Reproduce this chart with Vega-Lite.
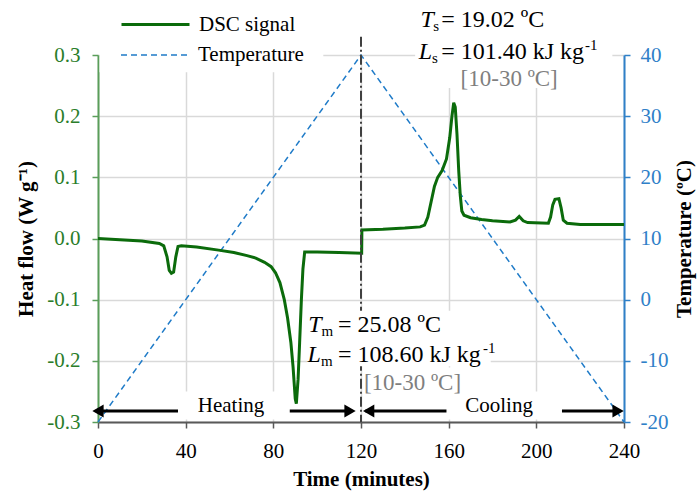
{
  "$schema": "https://vega.github.io/schema/vega-lite/v6.json",
  "width": 526,
  "height": 367,
  "autosize": {"type": "none"},
  "padding": {"left": 98, "top": 55, "right": 74, "bottom": 70},
  "background": "white",
  "config": {
    "view": {"stroke": null},
    "font": "Liberation Serif",
    "text": {"font": "Liberation Serif"}
  },
  "datasets": {
    "dsc": [
      {"t": 0, "hf": 0.0}, {"t": 10, "hf": -0.002}, {"t": 20, "hf": -0.004}, {"t": 28, "hf": -0.008},
      {"t": 30, "hf": -0.012}, {"t": 31.5, "hf": -0.03}, {"t": 32.5, "hf": -0.052}, {"t": 33.5, "hf": -0.057},
      {"t": 34.5, "hf": -0.055}, {"t": 35.5, "hf": -0.03}, {"t": 36.5, "hf": -0.013}, {"t": 38, "hf": -0.012},
      {"t": 45, "hf": -0.014}, {"t": 55, "hf": -0.019}, {"t": 62, "hf": -0.023}, {"t": 68, "hf": -0.028},
      {"t": 72, "hf": -0.032}, {"t": 76, "hf": -0.039}, {"t": 79, "hf": -0.046}, {"t": 81, "hf": -0.056},
      {"t": 83, "hf": -0.072}, {"t": 85, "hf": -0.1}, {"t": 86.5, "hf": -0.13}, {"t": 88, "hf": -0.17},
      {"t": 89, "hf": -0.21}, {"t": 90, "hf": -0.262}, {"t": 90.5, "hf": -0.27}, {"t": 91.3, "hf": -0.23},
      {"t": 92, "hf": -0.17}, {"t": 92.8, "hf": -0.1}, {"t": 93.5, "hf": -0.05}, {"t": 94.3, "hf": -0.022},
      {"t": 100, "hf": -0.022}, {"t": 110, "hf": -0.023}, {"t": 120.3, "hf": -0.024}, {"t": 120.4, "hf": 0.014},
      {"t": 130, "hf": 0.015}, {"t": 140, "hf": 0.017}, {"t": 147, "hf": 0.019}, {"t": 149, "hf": 0.022},
      {"t": 150.5, "hf": 0.035}, {"t": 152, "hf": 0.06}, {"t": 153.5, "hf": 0.085}, {"t": 155, "hf": 0.1},
      {"t": 157, "hf": 0.111}, {"t": 159, "hf": 0.13}, {"t": 160.5, "hf": 0.165}, {"t": 161.5, "hf": 0.2},
      {"t": 162.3, "hf": 0.222}, {"t": 163, "hf": 0.215}, {"t": 163.8, "hf": 0.17}, {"t": 164.6, "hf": 0.11},
      {"t": 165.3, "hf": 0.07}, {"t": 166, "hf": 0.045}, {"t": 167, "hf": 0.038}, {"t": 170, "hf": 0.034},
      {"t": 175, "hf": 0.031}, {"t": 180, "hf": 0.029}, {"t": 188, "hf": 0.027}, {"t": 190.5, "hf": 0.03},
      {"t": 192.2, "hf": 0.036}, {"t": 194, "hf": 0.029}, {"t": 196, "hf": 0.026}, {"t": 205.5, "hf": 0.025},
      {"t": 206.5, "hf": 0.035}, {"t": 207.5, "hf": 0.055}, {"t": 208.5, "hf": 0.064}, {"t": 210.3, "hf": 0.065},
      {"t": 211.3, "hf": 0.05}, {"t": 212.3, "hf": 0.03}, {"t": 214, "hf": 0.025}, {"t": 220, "hf": 0.023},
      {"t": 240, "hf": 0.023}
    ],
    "temp": [{"t": 0, "temp": -20}, {"t": 120, "temp": 40}, {"t": 240, "temp": -20}],
    "vline": [{"t": 120, "hf": 0.33, "hf2": -0.3}],
    "boxes": [
      {"t": 0.7, "t2": 102.8, "hf": 0.36, "hf2": 0.272},
      {"t": 144.7, "t2": 234.7, "hf": 0.36, "hf2": 0.246},
      {"t": 95.4, "t2": 179.2, "hf": -0.118, "hf2": -0.209},
      {"t": 120.8, "t2": 166.5, "hf": -0.211, "hf2": -0.254},
      {"t": 36.8, "t2": 87.2, "hf": -0.25, "hf2": -0.296},
      {"t": 159.3, "t2": 211.4, "hf": -0.25, "hf2": -0.296}
    ],
    "arrows": [
      {"t": -1, "t2": 36.5, "hf": -0.282}, {"t": 87.5, "t2": 116, "hf": -0.282},
      {"t": 122, "t2": 159, "hf": -0.282}, {"t": 211.7, "t2": 238, "hf": -0.282}
    ],
    "heads": [
      {"t": 0, "hf": -0.282, "dir": "left"}, {"t": 115, "hf": -0.282, "dir": "right"},
      {"t": 123.5, "hf": -0.282, "dir": "left"}, {"t": 237.3, "hf": -0.282, "dir": "right"}
    ],
    "phase": [
      {"t": 60.7, "hf": -0.2843, "txt": "Heating"}, {"t": 183, "hf": -0.2843, "txt": "Cooling"}
    ],
    "annIt": [
      {"t": 147.2, "hf": 0.3453, "txt": "T"},
      {"t": 146.4, "hf": 0.293, "txt": "L"},
      {"t": 95.9, "hf": -0.1529, "txt": "T"},
      {"t": 95.6, "hf": -0.202, "txt": "L"}
    ],
    "annSmall": [
      {"t": 153.0, "hf": 0.3393, "txt": "s"},
      {"t": 152.4, "hf": 0.2869, "txt": "s"},
      {"t": 222.2, "hf": 0.3082, "txt": "-1"},
      {"t": 102.0, "hf": -0.1591, "txt": "m"},
      {"t": 101.8, "hf": -0.2082, "txt": "m"},
      {"t": 175.7, "hf": -0.1869, "txt": "-1"}
    ],
    "annMain": [
      {"t": 156.6, "hf": 0.3453, "txt": "= 19.02 ºC"},
      {"t": 156.6, "hf": 0.293, "txt": "= 101.40 kJ kg"},
      {"t": 109.5, "hf": -0.1529, "txt": "= 25.08 ºC"},
      {"t": 109.5, "hf": -0.202, "txt": "= 108.60 kJ kg"}
    ],
    "annNote": [
      {"t": 187.6, "hf": 0.2493, "txt": "[10-30 ºC]"},
      {"t": 143.5, "hf": -0.2483, "txt": "[10-30 ºC]"}
    ]
  },
  "resolve": {"scale": {"y": "independent"}},
  "layer": [
    {
      "data": {"name": "temp"},
      "mark": {"type": "line", "strokeWidth": 1.5, "strokeDash": [6, 4], "clip": false},
      "encoding": {
        "x": {"field": "t", "type": "quantitative", "scale": {"domain": [0, 240]}},
        "y": {
          "field": "temp", "type": "quantitative",
          "scale": {"domain": [-20, 40]},
          "axis": {
            "orient": "right", "values": [-20, -10, 0, 10, 20, 30, 40],
            "labelExpr": "replace(datum.label, '\u2212', '-')",
            "grid": false, "domainColor": "#2F80C8", "domainWidth": 2, "tickColor": "#2F80C8", "tickWidth": 1.5, "tickSize": 6,
            "labelColor": "#2F80C8", "labelFont": "Liberation Serif", "labelFontSize": 21, "labelPadding": 10,
            "title": "Temperature (ºC)", "titleFont": "Liberation Serif", "titleFontSize": 21, "titleFontWeight": "bold",
            "titleColor": "#000000", "titleAngle": 270, "titleBaseline": "top", "titlePadding": 6
          }
        },
        "stroke": {
          "datum": "Temperature", "type": "nominal",
          "scale": {"domain": ["Temperature"], "range": ["#1F7BC8"]},
          "legend": {
            "orient": "none", "legendX": 22, "legendY": -35, "title": null,
            "symbolType": "stroke", "symbolSize": 4624, "symbolStrokeWidth": 1.5, "symbolDash": [6, 4],
            "labelFont": "Liberation Serif", "labelFontSize": 21, "labelColor": "#000000", "labelOffset": 8, "padding": 0
          }
        }
      }
    },
    {
      "layer": [
        {
          "data": {"name": "dsc"},
          "mark": {"type": "line", "strokeWidth": 3, "clip": false},
          "encoding": {
            "x": {
              "field": "t", "type": "quantitative", "scale": {"domain": [0, 240]},
              "axis": {
                "values": [0, 40, 80, 120, 160, 200, 240], "title": "Time (minutes)",
                "grid": true, "gridColor": "#d9d9d9", "gridWidth": 1.5,
                "domainColor": "#595959", "domainWidth": 2, "tickColor": "#595959", "tickWidth": 1.5, "tickSize": 6,
                "labelFont": "Liberation Serif", "labelFontSize": 21, "labelColor": "#000000", "labelPadding": 12, "labelFlush": false,
                "titleFont": "Liberation Serif", "titleFontSize": 21, "titleFontWeight": "bold", "titleColor": "#000000", "titlePadding": 7
              }
            },
            "y": {
              "field": "hf", "type": "quantitative", "scale": {"domain": [-0.3, 0.3]},
              "axis": {
                "orient": "left", "values": [-0.3, -0.2, -0.1, 0, 0.1, 0.2, 0.3], "format": ".1f",
                "labelExpr": "replace(datum.label, '\u2212', '-')",
                "grid": true, "gridColor": "#d9d9d9", "gridWidth": 1.5,
                "domainColor": "#5A9E5A", "domainWidth": 2, "tickColor": "#5A9E5A", "tickWidth": 1.5, "tickSize": 6,
                "labelColor": "#2A7D2A", "labelFont": "Liberation Serif", "labelFontSize": 21, "labelPadding": 12,
                "title": "Heat flow (W g\u207B\u00B9)", "titleFont": "Liberation Serif", "titleFontSize": 21, "titleFontWeight": "bold",
                "titleColor": "#000000", "titlePadding": 10
              }
            },
            "color": {
              "datum": "DSC signal", "type": "nominal",
              "scale": {"domain": ["DSC signal"], "range": ["#0B6B0B"]},
              "legend": {
                "orient": "none", "legendX": 22, "legendY": -66, "title": null,
                "symbolType": "stroke", "symbolSize": 4624, "symbolStrokeWidth": 3,
                "labelFont": "Liberation Serif", "labelFontSize": 21, "labelColor": "#000000", "labelOffset": 8, "padding": 0
              }
            }
          }
        },
        {
          "data": {"name": "vline"},
          "mark": {"type": "rule", "color": "#404040", "strokeWidth": 2, "strokeDash": [10, 3, 2, 3], "clip": false},
          "encoding": {
            "x": {"field": "t", "type": "quantitative"},
            "y": {"field": "hf", "type": "quantitative", "scale": {"domain": [-0.3, 0.3]}},
            "y2": {"field": "hf2"}
          }
        },
        {
          "data": {"name": "boxes"},
          "mark": {"type": "rect", "fill": "#ffffff", "strokeWidth": 0, "clip": false},
          "encoding": {
            "x": {"field": "t", "type": "quantitative"},
            "x2": {"field": "t2"},
            "y": {"field": "hf", "type": "quantitative", "scale": {"domain": [-0.3, 0.3]}},
            "y2": {"field": "hf2"}
          }
        },
        {
          "data": {"name": "arrows"},
          "mark": {"type": "rule", "color": "#000000", "strokeWidth": 3, "clip": false},
          "encoding": {
            "x": {"field": "t", "type": "quantitative"},
            "x2": {"field": "t2"},
            "y": {"field": "hf", "type": "quantitative", "scale": {"domain": [-0.3, 0.3]}}
          }
        },
        {
          "data": {"name": "heads"},
          "mark": {"type": "point", "filled": true, "color": "#000000", "size": 170, "opacity": 1, "clip": false},
          "encoding": {
            "x": {"field": "t", "type": "quantitative"},
            "y": {"field": "hf", "type": "quantitative", "scale": {"domain": [-0.3, 0.3]}},
            "shape": {"field": "dir", "type": "nominal", "scale": {"domain": ["left", "right"], "range": ["triangle-left", "triangle-right"]}, "legend": null}
          }
        },
        {
          "data": {"name": "phase"},
          "mark": {"type": "text", "font": "Liberation Serif", "fontSize": 21, "color": "#000000", "align": "center", "baseline": "alphabetic", "clip": false},
          "encoding": {
            "x": {"field": "t", "type": "quantitative"},
            "y": {"field": "hf", "type": "quantitative", "scale": {"domain": [-0.3, 0.3]}},
            "text": {"field": "txt"}
          }
        },
        {
          "data": {"name": "annIt"},
          "mark": {"type": "text", "font": "Liberation Serif", "fontSize": 24, "fontStyle": "italic", "color": "#000000", "align": "left", "baseline": "alphabetic", "clip": false},
          "encoding": {
            "x": {"field": "t", "type": "quantitative"},
            "y": {"field": "hf", "type": "quantitative", "scale": {"domain": [-0.3, 0.3]}},
            "text": {"field": "txt"}
          }
        },
        {
          "data": {"name": "annSmall"},
          "mark": {"type": "text", "font": "Liberation Serif", "fontSize": 15, "color": "#000000", "align": "left", "baseline": "alphabetic", "clip": false},
          "encoding": {
            "x": {"field": "t", "type": "quantitative"},
            "y": {"field": "hf", "type": "quantitative", "scale": {"domain": [-0.3, 0.3]}},
            "text": {"field": "txt"}
          }
        },
        {
          "data": {"name": "annMain"},
          "mark": {"type": "text", "font": "Liberation Serif", "fontSize": 24, "color": "#000000", "align": "left", "baseline": "alphabetic", "clip": false},
          "encoding": {
            "x": {"field": "t", "type": "quantitative"},
            "y": {"field": "hf", "type": "quantitative", "scale": {"domain": [-0.3, 0.3]}},
            "text": {"field": "txt"}
          }
        },
        {
          "data": {"name": "annNote"},
          "mark": {"type": "text", "font": "Liberation Serif", "fontSize": 23, "color": "#7F7F7F", "align": "center", "baseline": "alphabetic", "clip": false},
          "encoding": {
            "x": {"field": "t", "type": "quantitative"},
            "y": {"field": "hf", "type": "quantitative", "scale": {"domain": [-0.3, 0.3]}},
            "text": {"field": "txt"}
          }
        }
      ]
    }
  ]
}
